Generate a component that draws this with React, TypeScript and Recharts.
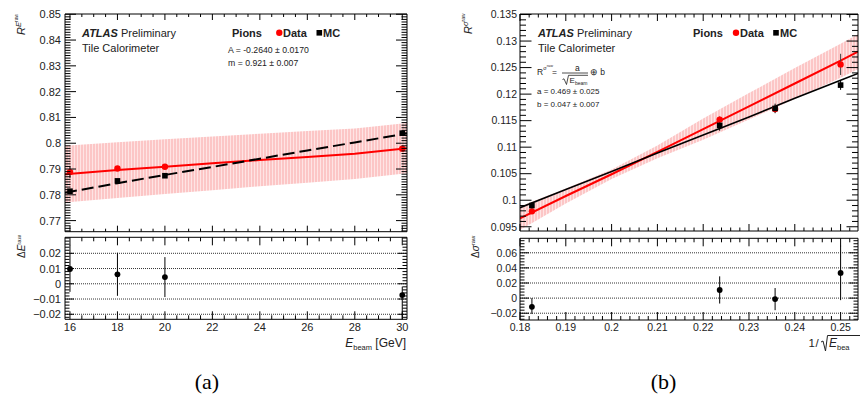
import React from 'react';
import { ComposedChart, XAxis, YAxis, Line, Area, Scatter, ErrorBar, ReferenceLine } from 'recharts';

// ---------------- Panel (a): response vs beam energy ----------------
const energies = [16, 18, 20, 30];
const respData = [0.7888, 0.7902, 0.7909, 0.7979];
const respDataErr = [0.0022, 0.0008, 0.0008, 0.0008];
const respMC = [0.7814, 0.7854, 0.7874, 0.8039];
const respMCErr = [0.0008, 0.0006, 0.0006, 0.0008];

const respFitX = [15.79, 18, 20, 22, 24, 26, 28, 30.2];
const respFitData = [0.788, 0.7896, 0.7909, 0.7922, 0.7935, 0.7947, 0.7959, 0.7981];
const respFitBandHalf = [0.011, 0.0108, 0.0106, 0.0104, 0.0102, 0.01, 0.0098, 0.0097];
const respFitMC = [0.7808, 0.7845, 0.7877, 0.7908, 0.794, 0.7972, 0.8003, 0.8038];

const respDelta = [0.0097, 0.0062, 0.0044, -0.0074];
const respDeltaErrLow = [0.015, 0.0141, 0.0131, 0.016];
const respDeltaErrHigh = [0.0158, 0.0142, 0.0131, 0.0055];

const respYMajor = [0.77, 0.78, 0.79, 0.8, 0.81, 0.82, 0.83, 0.84, 0.85];
const energyMajor = [16, 18, 20, 22, 24, 26, 28, 30];
const respDeltaMajor = [-0.02, -0.01, 0, 0.01, 0.02];

// ---------------- Panel (b): resolution vs 1/sqrt(E) ----------------
const invSqrtE = [0.1826, 0.2236, 0.2357, 0.25];
const resoData = [0.0979, 0.1152, 0.1172, 0.1256];
const resoDataErr = [0.0004, 0.0006, 0.0006, 0.002];
const resoMC = [0.099, 0.1141, 0.1173, 0.1217];
const resoMCErr = [0.0006, 0.001, 0.0009, 0.0009];

const resoFitX = [0.18, 0.19, 0.2, 0.21, 0.22, 0.23, 0.24, 0.25, 0.2538];
const resoFitData = [0.0966, 0.1008, 0.1049, 0.1091, 0.1134, 0.1177, 0.122, 0.1263, 0.128];
const resoFitBandHalf = [0.0022, 0.0014, 0.0009, 0.0012, 0.002, 0.0025, 0.0029, 0.0032, 0.0033];
const resoFitMC = [0.0986, 0.102, 0.1054, 0.1089, 0.1123, 0.1157, 0.1192, 0.1226, 0.1239];

const resoDelta = [-0.0116, 0.0107, -0.0013, 0.0333];
const resoDeltaErrLow = [0.0095, 0.0179, 0.0147, 0.036];
const resoDeltaErrHigh = [0.0116, 0.0181, 0.0146, 0.036];

const resoYMajor = [0.095, 0.1, 0.105, 0.11, 0.115, 0.12, 0.125, 0.13, 0.135];
const invMajor = [0.18, 0.19, 0.2, 0.21, 0.22, 0.23, 0.24, 0.25];
const resoDeltaMajor = [-0.02, 0, 0.02, 0.04, 0.06];

// ---------------- helpers ----------------
const FONT = 'Liberation Sans, Arial, Helvetica, sans-serif';

function steps(from: number, to: number, step: number) {
  const out: number[] = [];
  const n = Math.round((to - from) / step);
  for (let i = 0; i <= n; i++) out.push(+(from + i * step).toFixed(6));
  return out;
}

function fmt(v: number) {
  const s = String(+v.toFixed(4));
  return s.replace('-', '\u2212');
}

type Side = 'left' | 'right' | 'top' | 'bottom';

function tickRenderer(
  side: Side,
  majors: number[],
  majorLen: number,
  minorLen: number,
  labels: boolean,
  fontSize: number,
  gap: number
) {
  return (props: any) => {
    const { x, y, payload } = props;
    const v = payload.value as number;
    const isMajor = majors.some((m) => Math.abs(m - v) < 1e-7);
    const showLab = labels && isMajor;
    const len = isMajor ? majorLen : minorLen;
    let x2 = x;
    let y2 = y;
    if (side === 'left') x2 = x + len;
    if (side === 'right') x2 = x - len;
    if (side === 'bottom') y2 = y - len;
    if (side === 'top') y2 = y + len;
    let label: any = null;
    if (showLab && side === 'left') {
      label = (
        <text x={x - gap} y={y} dy="0.36em" textAnchor="end" fontSize={fontSize} fontFamily={FONT} fill="#222">
          {fmt(v)}
        </text>
      );
    }
    if (showLab && side === 'bottom') {
      label = (
        <text x={x} y={y + gap} dy="0.36em" textAnchor="middle" fontSize={fontSize} fontFamily={FONT} fill="#222">
          {fmt(v)}
        </text>
      );
    }
    return (
      <g>
        <line x1={x} y1={y} x2={x2} y2={y2} stroke="#000" strokeWidth={1} />
        {label}
      </g>
    );
  };
}

type FrameCfg = {
  xDomain: [number, number];
  yDomain: [number, number];
  xTicks: number[];
  xMajor: number[];
  yTicks: number[];
  yMajor: number[];
  xLen: [number, number];
  yLen: [number, number];
  xLabels: boolean;
  fontSize: number;
  yGap: number;
  xGap: number;
};

// every helper axis is 1px thick; chart margins are reduced by 1 to compensate
function axes(c: FrameCfg) {
  const axisLine = { stroke: '#000', strokeWidth: 1 };
  return [
    <XAxis
      key="xb"
      xAxisId={0}
      dataKey="x"
      type="number"
      orientation="bottom"
      domain={c.xDomain}
      allowDataOverflow
      ticks={c.xTicks}
      interval={0}
      height={1}
      tickSize={0}
      tickMargin={0}
      tickLine={false}
      axisLine={axisLine}
      tick={tickRenderer('bottom', c.xMajor, c.xLen[0], c.xLen[1], c.xLabels, c.fontSize, c.xGap)}
    />,
    <XAxis
      key="xt"
      xAxisId="top"
      dataKey="x"
      type="number"
      orientation="top"
      domain={c.xDomain}
      allowDataOverflow
      ticks={c.xTicks}
      interval={0}
      height={1}
      tickSize={0}
      tickMargin={0}
      tickLine={false}
      axisLine={axisLine}
      tick={tickRenderer('top', c.xMajor, c.xLen[0], c.xLen[1], false, c.fontSize, 0)}
    />,
    <YAxis
      key="yl"
      yAxisId={0}
      type="number"
      orientation="left"
      domain={c.yDomain}
      allowDataOverflow
      ticks={c.yTicks}
      interval={0}
      width={1}
      tickSize={0}
      tickMargin={0}
      tickLine={false}
      axisLine={axisLine}
      tick={tickRenderer('left', c.yMajor, c.yLen[0], c.yLen[1], true, c.fontSize, c.yGap)}
    />,
    <YAxis
      key="yr"
      yAxisId="right"
      type="number"
      orientation="right"
      domain={c.yDomain}
      allowDataOverflow
      ticks={c.yTicks}
      interval={0}
      width={1}
      tickSize={0}
      tickMargin={0}
      tickLine={false}
      axisLine={axisLine}
      tick={tickRenderer('right', c.yMajor, c.yLen[0], c.yLen[1], false, c.fontSize, 0)}
    />,
  ];
}

function margins(top: number, right: number, bottom: number, left: number) {
  return { top: top - 1, right: right - 1, bottom: bottom - 1, left: left - 1 };
}

const RedDot = (p: any) => <circle cx={p.cx} cy={p.cy} r={3.2} fill="#ff0000" />;
const BlackSquare = (p: any) => <rect x={p.cx - 2.8} y={p.cy - 2.8} width={5.6} height={5.6} fill="#000" />;
const BlackDot = (p: any) => <circle cx={p.cx} cy={p.cy} r={2.9} fill="#000" />;

// ---------------- tables ----------------
const respTable = respFitX.map((x, i) => ({
  x,
  fitData: respFitData[i],
  fitMC: respFitMC[i],
  band: [respFitData[i] - respFitBandHalf[i], respFitData[i] + respFitBandHalf[i]],
}));
const respDataPts = energies.map((x, i) => ({ x, y: respData[i], err: respDataErr[i] }));
const respMCPts = energies.map((x, i) => ({ x, y: respMC[i], err: respMCErr[i] }));
const respDeltaPts = energies.map((x, i) => ({ x, y: respDelta[i], err: [respDeltaErrLow[i], respDeltaErrHigh[i]] }));

const resoTable = resoFitX.map((x, i) => ({
  x,
  fitData: resoFitData[i],
  fitMC: resoFitMC[i],
  band: [resoFitData[i] - resoFitBandHalf[i], resoFitData[i] + resoFitBandHalf[i]],
}));
const resoDataPts = invSqrtE.map((x, i) => ({ x, y: resoData[i], err: resoDataErr[i] }));
const resoMCPts = invSqrtE.map((x, i) => ({ x, y: resoMC[i], err: resoMCErr[i] }));
const resoDeltaPts = invSqrtE.map((x, i) => ({ x, y: resoDelta[i], err: [resoDeltaErrLow[i], resoDeltaErrHigh[i]] }));

// ---------------- frames ----------------
const respMainCfg: FrameCfg = {
  xDomain: [15.79, 30.2],
  yDomain: [0.7657, 0.8501],
  xTicks: steps(16, 30, 0.5),
  xMajor: energyMajor,
  yTicks: steps(0.766, 0.85, 0.001),
  yMajor: respYMajor,
  xLen: [6, 3],
  yLen: [11, 5.5],
  xLabels: false,
  fontSize: 11,
  yGap: 4,
  xGap: 8,
};
const respLowCfg: FrameCfg = {
  xDomain: [15.79, 30.2],
  yDomain: [-0.0233, 0.0305],
  xTicks: steps(16, 30, 0.5),
  xMajor: energyMajor,
  yTicks: steps(-0.022, 0.03, 0.002),
  yMajor: respDeltaMajor,
  xLen: [8, 4],
  yLen: [9, 4.5],
  xLabels: true,
  fontSize: 11,
  yGap: 4,
  xGap: 8,
};
const resoMainCfg: FrameCfg = {
  xDomain: [0.18, 0.2538],
  yDomain: [0.0942, 0.1351],
  xTicks: steps(0.18, 0.252, 0.002),
  xMajor: invMajor,
  yTicks: steps(0.095, 0.135, 0.001),
  yMajor: resoYMajor,
  xLen: [7, 3.5],
  yLen: [11.5, 6],
  xLabels: false,
  fontSize: 10.5,
  yGap: 3,
  xGap: 7.5,
};
const resoLowCfg: FrameCfg = {
  xDomain: [0.18, 0.2538],
  yDomain: [-0.029, 0.0792],
  xTicks: steps(0.18, 0.252, 0.002),
  xMajor: invMajor,
  yTicks: steps(-0.028, 0.076, 0.004),
  yMajor: resoDeltaMajor,
  xLen: [8, 4],
  yLen: [9, 4.5],
  xLabels: true,
  fontSize: 10.5,
  yGap: 3,
  xGap: 7.5,
};

const abs = (left: number, top: number): React.CSSProperties => ({ position: 'absolute', left, top });

export default function App() {
  return (
    <div style={{ position: 'absolute', left: 0, top: 0, width: 860, height: 405, background: '#fff', overflow: 'hidden' }}>
      <svg width={0} height={0} style={{ position: 'absolute' }}>
        <defs>
          <pattern id="bandHatch" width="3" height="3" patternUnits="userSpaceOnUse">
            <rect width="3" height="3" fill="#fcc6c6" />
            <rect x="2" width="1" height="3" fill="#fee4e4" />
          </pattern>
        </defs>
      </svg>

      {/* Panel (a) main */}
      <div style={abs(0, 0)}>
        <ComposedChart width={420} height={240} data={respTable} margin={margins(14, 13, 8.3, 65)}>
          {axes(respMainCfg)}
          <Area dataKey="band" type="linear" fill="url(#bandHatch)" fillOpacity={1} stroke="none" isAnimationActive={false} />
          <Line dataKey="fitData" type="linear" stroke="#ff0000" strokeWidth={2} dot={false} isAnimationActive={false} />
          <Line dataKey="fitMC" type="linear" stroke="#000" strokeWidth={2} strokeDasharray="12 5" dot={false} isAnimationActive={false} />
          <Scatter data={respDataPts} dataKey="y" shape={RedDot} isAnimationActive={false}>
            <ErrorBar dataKey="err" direction="y" width={0} stroke="#000" strokeWidth={1} />
          </Scatter>
          <Scatter data={respMCPts} dataKey="y" shape={BlackSquare} isAnimationActive={false}>
            <ErrorBar dataKey="err" direction="y" width={0} stroke="#000" strokeWidth={1} />
          </Scatter>
        </ComposedChart>
      </div>

      {/* Panel (a) ratio */}
      <div style={abs(0, 230)}>
        <ComposedChart width={420} height={130} margin={margins(7.3, 13, 40.7, 65)}>
          {axes(respLowCfg)}
          {respDeltaMajor.map((v) => (
            <ReferenceLine key={v} y={v} stroke="#333" strokeWidth={1} strokeDasharray="1 1" />
          ))}
          <Scatter data={respDeltaPts} dataKey="y" shape={BlackDot} isAnimationActive={false}>
            <ErrorBar dataKey="err" direction="y" width={0} stroke="#000" strokeWidth={1} />
          </Scatter>
        </ComposedChart>
      </div>

      {/* Panel (b) main */}
      <div style={abs(430, 0)}>
        <ComposedChart width={430} height={240} data={resoTable} margin={margins(14, 2, 9, 90)}>
          {axes(resoMainCfg)}
          <Area dataKey="band" type="linear" fill="url(#bandHatch)" fillOpacity={1} stroke="none" isAnimationActive={false} />
          <Line dataKey="fitData" type="linear" stroke="#ff0000" strokeWidth={2} dot={false} isAnimationActive={false} />
          <Line dataKey="fitMC" type="linear" stroke="#000" strokeWidth={1.6} dot={false} isAnimationActive={false} />
          <Scatter data={resoDataPts} dataKey="y" shape={RedDot} isAnimationActive={false}>
            <ErrorBar dataKey="err" direction="y" width={0} stroke="#444" strokeWidth={1} />
          </Scatter>
          <Scatter data={resoMCPts} dataKey="y" shape={BlackSquare} isAnimationActive={false}>
            <ErrorBar dataKey="err" direction="y" width={0} stroke="#000" strokeWidth={1} />
          </Scatter>
        </ComposedChart>
      </div>

      {/* Panel (b) ratio */}
      <div style={abs(430, 230)}>
        <ComposedChart width={430} height={130} margin={margins(8.3, 2, 40, 90)}>
          {axes(resoLowCfg)}
          {resoDeltaMajor.map((v) => (
            <ReferenceLine key={v} y={v} stroke="#333" strokeWidth={1} strokeDasharray="1 1" />
          ))}
          <Scatter data={resoDeltaPts} dataKey="y" shape={BlackDot} isAnimationActive={false}>
            <ErrorBar dataKey="err" direction="y" width={0} stroke="#000" strokeWidth={1} />
          </Scatter>
        </ComposedChart>
      </div>

      {/* Text overlay */}
      <svg width={860} height={405} style={{ position: 'absolute', left: 0, top: 0, pointerEvents: 'none' }} fontFamily={FONT}>
        {/* ---- panel (a) ---- */}
        <text transform="translate(25,35) rotate(-90)" fontSize={11} fill="#222">
          <tspan fontStyle="italic">R</tspan>
          <tspan fontSize={7.5} fontStyle="italic" dy={-4.5}>E</tspan>
          <tspan fontSize={5} dy={-2.5}>raw</tspan>
        </text>
        <text transform="translate(25,258) rotate(-90)" fontSize={10} fill="#222">
          <tspan>Δ</tspan>
          <tspan fontStyle="italic">E</tspan>
          <tspan fontSize={6} dy={-4}>raw</tspan>
        </text>
        <text x={406} y={347} textAnchor="end" fontSize={12} fill="#222">
          <tspan fontStyle="italic">E</tspan>
          <tspan fontSize={7.5} dy={3}>beam</tspan>
          <tspan dy={-3}>{' [GeV]'}</tspan>
        </text>

        <text x={82} y={37} fontSize={11} fill="#222">
          <tspan fontWeight="bold" fontStyle="italic">ATLAS</tspan>
          <tspan>{' Preliminary'}</tspan>
        </text>
        <text x={82} y={52} fontSize={11} fill="#222">Tile Calorimeter</text>

        <text x={232} y={37} fontSize={11} fontWeight="bold" fill="#222">Pions</text>
        <circle cx={279.3} cy={32.8} r={3.2} fill="#ff0000" />
        <text x={283} y={37} fontSize={11} fontWeight="bold" fill="#222">Data</text>
        <rect x={316.5} y={30} width={5.6} height={5.6} fill="#000" />
        <text x={323} y={37} fontSize={11} fontWeight="bold" fill="#222">MC</text>
        <text x={228} y={52.5} fontSize={8.7} fill="#222">A = -0.2640 ± 0.0170</text>
        <text x={228} y={65.5} fontSize={8.7} fill="#222">m = 0.921 ± 0.007</text>

        <text x={207} y={389} textAnchor="middle" fontSize={22} fontFamily="Liberation Serif, DejaVu Serif, serif" fill="#000">
          (a)
        </text>

        {/* ---- panel (b) ---- */}
        <text transform="translate(472,34) rotate(-90)" fontSize={11} fill="#222">
          <tspan fontStyle="italic">R</tspan>
          <tspan fontSize={7.5} fontStyle="italic" dy={-4.5}>σ</tspan>
          <tspan fontSize={5} dy={-2.5}>raw</tspan>
        </text>
        <text transform="translate(479,258) rotate(-90)" fontSize={10} fill="#222">
          <tspan>Δ</tspan>
          <tspan fontStyle="italic">σ</tspan>
          <tspan fontSize={6} dy={-4}>raw</tspan>
        </text>
        <text y={347} fontSize={11.5} fill="#222">
          <tspan x={808.5}>1</tspan>
          <tspan x={815.5}>/</tspan>
        </text>
        <polyline points="821,342 823,341 825.5,351 827.5,335.5 870,335.5" fill="none" stroke="#222" strokeWidth={1} />
        <text x={829} y={347} fontSize={12} fill="#222">
          <tspan fontStyle="italic">E</tspan>
          <tspan fontSize={7.5} dy={3}>bea</tspan>
        </text>

        <text x={538} y={37} fontSize={11} fill="#222">
          <tspan fontWeight="bold" fontStyle="italic">ATLAS</tspan>
          <tspan>{' Preliminary'}</tspan>
        </text>
        <text x={538} y={52} fontSize={11} fill="#222">Tile Calorimeter</text>

        <text x={537} y={75} fontSize={8.5} fill="#222">R</text>
        <text x={543.3} y={69.5} fontSize={5.5} fill="#222">σ</text>
        <text x={546.8} y={67} fontSize={3.8} fill="#222">raw</text>
        <text x={552} y={75} fontSize={8.5} fill="#222">=</text>
        <text x={575} y={70.5} fontSize={8.5} fill="#222">a</text>
        <line x1={562} y1={73} x2={588} y2={73} stroke="#222" strokeWidth={0.8} />
        <polyline points="562.5,79.5 564,78.8 566.5,84.5 568.5,75.3 588,75.3" fill="none" stroke="#222" strokeWidth={0.8} />
        <text x={569.5} y={83.3} fontSize={8} fill="#222">E</text>
        <text x={575} y={85.2} fontSize={5} fill="#222">beam</text>
        <text x={590} y={75} fontSize={8.5} fill="#222">⊕ b</text>
        <text x={537} y={94} fontSize={8} fill="#222">a = 0.469 ± 0.025</text>
        <text x={537} y={106.5} fontSize={8} fill="#222">b = 0.047 ± 0.007</text>

        <text x={693} y={37} fontSize={11} fontWeight="bold" fill="#222">Pions</text>
        <circle cx={736} cy={32.8} r={3.2} fill="#ff0000" />
        <text x={740} y={37} fontSize={11} fontWeight="bold" fill="#222">Data</text>
        <rect x={773.2} y={30} width={5.6} height={5.6} fill="#000" />
        <text x={780} y={37} fontSize={11} fontWeight="bold" fill="#222">MC</text>

        <text x={663.5} y={389} textAnchor="middle" fontSize={22} fontFamily="Liberation Serif, DejaVu Serif, serif" fill="#000">
          (b)
        </text>
      </svg>
    </div>
  );
}
